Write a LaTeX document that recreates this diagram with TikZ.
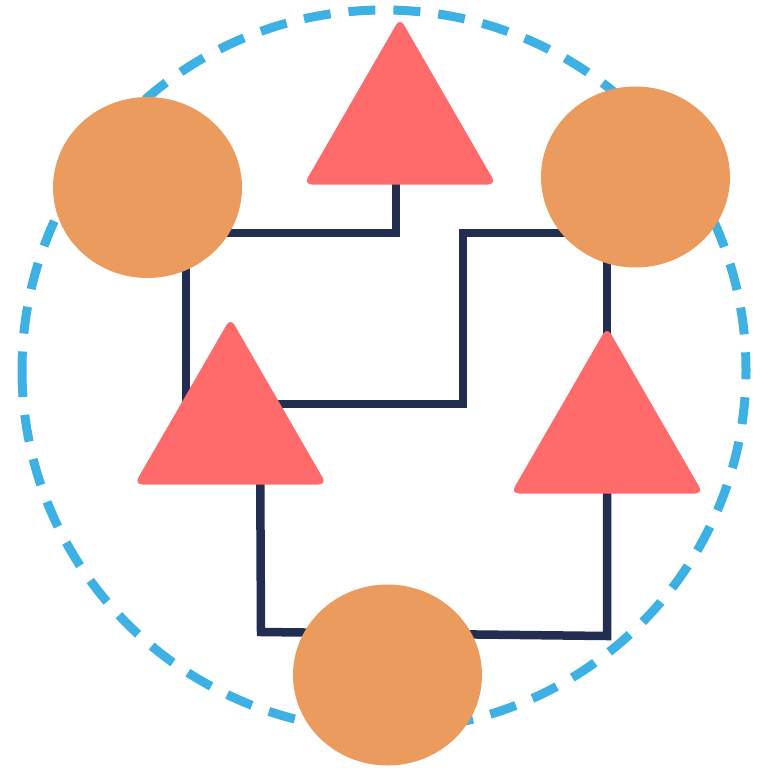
\documentclass[tikz,border=0pt]{standalone}
\usetikzlibrary{shapes.geometric,backgrounds}
\definecolor{blob}{HTML}{EC9B5F}
\definecolor{tri}{HTML}{FF6B6B}
\definecolor{navy}{HTML}{222E50}
\definecolor{ring}{HTML}{3DB1E3}
\tikzset{
  blobnode/.style={ellipse,fill=blob,draw=none,inner sep=0pt,minimum width=189pt,minimum height=181pt},
  trinode/.style={regular polygon,regular polygon sides=3,fill=tri,draw=none,inner sep=0pt,minimum size=222pt,rounded corners=8pt},
  wire/.style={draw=navy,line width=8.5pt,line join=miter,line cap=butt},
  ringline/.style={draw=ring,line width=9pt,dash pattern=on 27pt off 18pt,line cap=butt}
}
\begin{document}
\begin{tikzpicture}[x=1pt,y=-1pt]
\useasboundingbox (0,0) rectangle (768,768);
% shapes
\node[trinode] (top) at (400,129) {};
\node[trinode] (left) at (230.5,429) {};
\node[trinode] (right) at (607,438) {};
\node[blobnode] (tl) at (147.5,187.5) {};
\node[blobnode] (tr) at (635.5,177) {};
\node[blobnode] (bot) at (387.5,675) {};
% bend points
\coordinate (w1) at (186,233);
\coordinate (w2) at (463,404);
\coordinate (w3) at (607,233);
\coordinate (w4) at (261,632);
\coordinate (w5) at (607,636);
\begin{pgfonlayer}{background}
  \coordinate (ringc) at (384,370);
  \draw[ringline] ([xshift=-362pt]ringc) arc[start angle=180,end angle=-180,x radius=362,y radius=360];
  \draw[wire] ([xshift=-4pt]top.center) |- (w1) |- (w2) |- (w3) -- (right.center);
  \draw[wire] ([xshift=29.5pt]left.center) -- (w4) -- (w5) -- (right.center);
\end{pgfonlayer}
\end{tikzpicture}
\end{document}
